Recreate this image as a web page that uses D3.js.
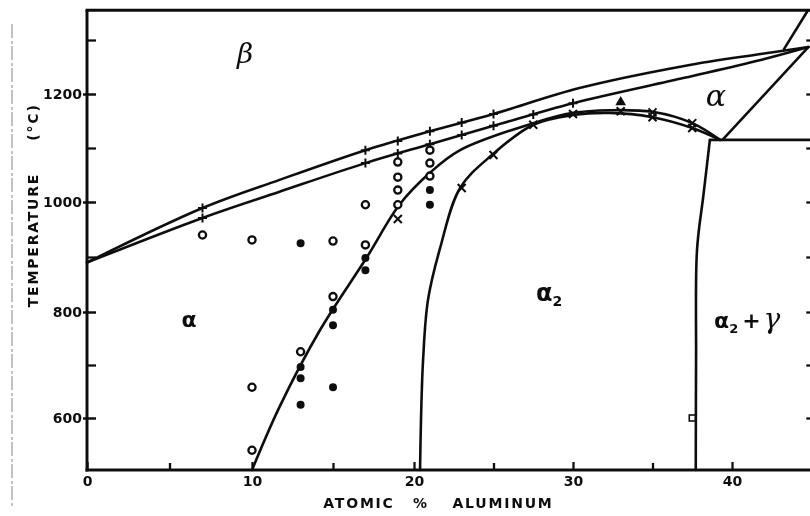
<!DOCTYPE html>
<html>
<head>
<meta charset="utf-8">
<script src="https://cdn.jsdelivr.net/npm/d3@7"></script>
<style>
  html, body { margin: 0; padding: 0; background: #fff; }
  svg { display: block; }
  text { font-family: "DejaVu Sans", sans-serif; font-weight: bold; fill: #111; }
</style>
</head>
<body>
<svg id="chart" width="810" height="516"></svg>
<script>
// ---- Ti–Al partial phase diagram: composition (at.% Al) vs temperature (°C) ----

// axis ticks
const xMajorTicks = [0, 10, 20, 30, 40];
const xMinorTicks = [5, 15, 25, 35];
const yMajorTicks = [600, 800, 1000, 1200];
const yMinorTicks = [700, 900, 1100, 1300];
const yRightTicks = [600, 700, 800, 900, 1000, 1100, 1200, 1300];

// phase boundaries, [at.% Al, °C]
const betaUpper = [[0, 890], [7, 989], [11.7, 1041], [17, 1096], [21, 1131], [25, 1163],
                   [30.4, 1211], [37, 1252], [41.8, 1274], [44.8, 1287]];
const betaLower = [[0, 890], [7, 971], [11.7, 1019], [17, 1072], [21, 1107], [25, 1141],
                   [30, 1183], [37, 1230], [41.8, 1263], [44.8, 1287]];
const alphaTransus = [[10, 500], [11.7, 621], [14.2, 766], [17.1, 900], [19.1, 995], [21, 1054],
                      [22.9, 1096], [27.5, 1146], [30, 1165], [32.3, 1170], [35, 1167], [37.5, 1146], [39.25, 1115]];
const alpha2Transus = [[20.38, 500], [20.44, 596], [20.57, 709], [20.88, 822], [21.64, 916], [22.9, 1026],
                       [24.9, 1087], [27.5, 1143], [30, 1161], [32.3, 1165], [35, 1157], [37.5, 1137], [39.25, 1115]];
const alphaGamma = [[39.4, 1115], [44.8, 1287]];
const eutectoid = [[38.6, 1115], [46, 1115]];
const alpha2Gamma = [[38.6, 1113], [38.2, 1012], [37.8, 913], [37.74, 709], [37.72, 500]];
const betaGamma = [[43.27, 1283], [44.78, 1355]];

// experimental points, [at.% Al, °C]
const plusUpper = [[7, 989], [17, 1096], [19, 1113], [21, 1131], [23, 1147], [25, 1163]];
const plusLower = [[7, 971], [17, 1072], [19, 1090], [21, 1107], [23, 1124], [25, 1141],
                   [27.5, 1162], [30, 1183]];
const crossPts = [[19, 969], [23, 1026], [25, 1087], [27.5, 1143], [30, 1163], [33, 1168],
                  [35, 1166], [35, 1157], [37.5, 1146], [37.5, 1137]];
const openCircles = [[7, 940], [10, 931], [15, 929], [17, 995], [17, 922],
                     [19, 1074], [19, 1046], [19, 1022], [19, 995],
                     [21, 1096], [21, 1072], [21, 1048],
                     [15, 828], [13, 725], [10, 658], [10, 538]];
const filledCircles = [[13, 925], [17, 898], [17, 876], [15, 804], [15, 775], [15, 658],
                       [13, 696], [13, 675], [13, 625], [21, 1022], [21, 995]];
const squarePts = [[37.5, 600]];
const trianglePts = [[33, 1185]];

// ---- scales (piecewise to follow the printed axis graduations) ----
const x = d3.scaleLinear().domain([0, 10, 20, 30, 40]).range([87, 252, 414, 573, 732]);
const y = d3.scaleLinear().domain([500, 600, 800, 1000, 1200]).range([470, 418, 312, 202, 94]);
const xMax = 45.3, yTop = 1355;

const svg = d3.select("#chart");
svg.append("defs").append("filter").attr("id", "soft")
  .append("feGaussianBlur").attr("stdDeviation", 0.4);
const g = svg.append("g").attr("filter", "url(#soft)");

// faint fold line at the left margin
g.append("line")
  .attr("x1", 12).attr("x2", 12).attr("y1", 24).attr("y2", 506)
  .attr("stroke", "#777").attr("stroke-width", 0.9)
  .attr("stroke-dasharray", "14 3 3 2");

// ---- frame ----
const frame = g.append("g").attr("stroke", "#111").attr("stroke-width", 3).attr("fill", "none");
frame.append("line").attr("x1", x(0)).attr("x2", x(0)).attr("y1", y(yTop)).attr("y2", y(500) + 1.5);
frame.append("line").attr("x1", x(0) - 1.5).attr("x2", x(xMax)).attr("y1", y(500)).attr("y2", y(500));
frame.append("line").attr("x1", x(0) - 1.5).attr("x2", x(xMax)).attr("y1", y(yTop)).attr("y2", y(yTop));
frame.append("line").attr("x1", x(xMax)).attr("x2", x(xMax)).attr("y1", y(yTop)).attr("y2", y(500));

// ---- axes ----
const gy = g.append("g").attr("transform", `translate(${x(0)},0)`)
  .call(d3.axisLeft(y).tickValues(yMajorTicks).tickSize(-9).tickPadding(5).tickFormat(d3.format("d")));
gy.select(".domain").remove();
gy.selectAll(".tick line").attr("x1", -4).attr("stroke", "#111").attr("stroke-width", 2.5);
gy.selectAll(".tick text").attr("font-size", 14).attr("fill", "#111");

const gyMinor = g.append("g").attr("transform", `translate(${x(0)},0)`)
  .call(d3.axisLeft(y).tickValues(yMinorTicks).tickSize(-9).tickFormat(""));
gyMinor.select(".domain").remove();
gyMinor.selectAll(".tick line").attr("stroke", "#111").attr("stroke-width", 2.3);

const gyRight = g.append("g").attr("transform", `translate(${x(xMax)},0)`)
  .call(d3.axisRight(y).tickValues(yRightTicks).tickSize(-10).tickFormat(""));
gyRight.select(".domain").remove();
gyRight.selectAll(".tick line").attr("stroke", "#111").attr("stroke-width", 2.3);

const gx = g.append("g").attr("transform", `translate(0,${y(500)})`)
  .call(d3.axisBottom(x).tickValues(xMajorTicks).tickSize(-8).tickPadding(6).tickFormat(d3.format("d")));
gx.select(".domain").remove();
gx.selectAll(".tick line").attr("stroke", "#111").attr("stroke-width", 2.3);
gx.selectAll(".tick text").attr("font-size", 14).attr("fill", "#111");

const gxMinor = g.append("g").attr("transform", `translate(0,${y(500)})`)
  .call(d3.axisBottom(x).tickValues(xMinorTicks).tickSize(-7).tickFormat(""));
gxMinor.select(".domain").remove();
gxMinor.selectAll(".tick line").attr("stroke", "#111").attr("stroke-width", 2.3);

// axis titles
const titleStyle = sel => sel.attr("font-size", 14).attr("letter-spacing", 1.8);
g.append("text").attr("x", 359).attr("y", 508).attr("text-anchor", "middle").text("ATOMIC").call(titleStyle);
g.append("text").attr("x", 421).attr("y", 508).attr("text-anchor", "middle").text("%").call(titleStyle);
g.append("text").attr("x", 503).attr("y", 508).attr("text-anchor", "middle").text("ALUMINUM").call(titleStyle);
g.append("text").attr("transform", "translate(38,240) rotate(-90)").attr("text-anchor", "middle")
  .text("TEMPERATURE").call(titleStyle);
g.append("text").attr("transform", "translate(38,122) rotate(-90)").attr("text-anchor", "middle")
  .text("(°C)").call(titleStyle);

// ---- phase boundaries ----
const smooth = d3.line().x(d => x(d[0])).y(d => y(d[1])).curve(d3.curveCatmullRom.alpha(0.5));
const straight = d3.line().x(d => x(d[0])).y(d => y(d[1]));
const bounds = g.append("g").attr("fill", "none").attr("stroke", "#111")
  .attr("stroke-width", 2.6).attr("stroke-linejoin", "round").attr("stroke-linecap", "round");
[betaUpper, betaLower, alphaTransus, alpha2Transus, alpha2Gamma].forEach(c => bounds.append("path").attr("d", smooth(c)));
[alphaGamma, eutectoid, betaGamma].forEach(c => bounds.append("path").attr("d", straight(c)));

// ---- experimental points ----
const pts = g.append("g");
const plusPath = "M-4.5,0H4.5M0,-4.5V4.5";
const crossPath = "M-4,-4L4,4M-4,4L4,-4";
pts.selectAll(".plus").data(plusUpper.concat(plusLower)).join("path")
  .attr("d", plusPath).attr("transform", d => `translate(${x(d[0])},${y(d[1])})`)
  .attr("stroke", "#111").attr("stroke-width", 2).attr("fill", "none");
pts.selectAll(".cross").data(crossPts).join("path")
  .attr("d", crossPath).attr("transform", d => `translate(${x(d[0])},${y(d[1])})`)
  .attr("stroke", "#111").attr("stroke-width", 2).attr("fill", "none");
pts.selectAll(".open").data(openCircles).join("circle")
  .attr("cx", d => x(d[0])).attr("cy", d => y(d[1])).attr("r", 3.6)
  .attr("fill", "#fff").attr("stroke", "#111").attr("stroke-width", 2.3);
pts.selectAll(".filled").data(filledCircles).join("circle")
  .attr("cx", d => x(d[0])).attr("cy", d => y(d[1])).attr("r", 4)
  .attr("fill", "#111");
pts.selectAll(".sq").data(squarePts).join("rect")
  .attr("x", d => x(d[0]) - 3).attr("y", d => y(d[1]) - 3).attr("width", 6).attr("height", 6)
  .attr("fill", "#fff").attr("stroke", "#111").attr("stroke-width", 1.6);
pts.selectAll(".tri").data(trianglePts).join("path")
  .attr("d", d3.symbol(d3.symbolTriangle, 50))
  .attr("transform", d => `translate(${x(d[0])},${y(d[1])})`).attr("fill", "#111");

// ---- phase field labels ----
const lab = g.append("g");
lab.append("text").attr("x", 245).attr("y", y(1257)).attr("text-anchor", "middle")
  .style("font-family", "DejaVu Serif").style("font-style", "italic").style("font-weight", "normal")
  .attr("font-size", 28).text("β");
lab.append("text").attr("x", 189).attr("y", y(772)).attr("text-anchor", "middle")
  .attr("font-size", 22).text("α");
const a2 = lab.append("text").attr("x", 536).attr("y", y(820)).attr("font-size", 24);
a2.append("tspan").text("α");
a2.append("tspan").attr("font-size", 14).attr("dy", 5).text("2");
const a2g = lab.append("text").attr("x", 714).attr("y", y(770)).attr("font-size", 22);
a2g.append("tspan").text("α");
a2g.append("tspan").attr("font-size", 13).attr("dy", 5).text("2");
a2g.append("tspan").attr("dy", -5).attr("dx", 4).text("+");
a2g.append("tspan").attr("dx", 3).style("font-family", "DejaVu Serif").style("font-style", "italic")
  .style("font-weight", "normal").attr("font-size", 28).text("γ");
lab.append("text").attr("x", 716).attr("y", y(1178)).attr("text-anchor", "middle")
  .style("font-family", "DejaVu Serif").style("font-style", "italic").style("font-weight", "normal")
  .attr("font-size", 30).text("α");
</script>
</body>
</html>
